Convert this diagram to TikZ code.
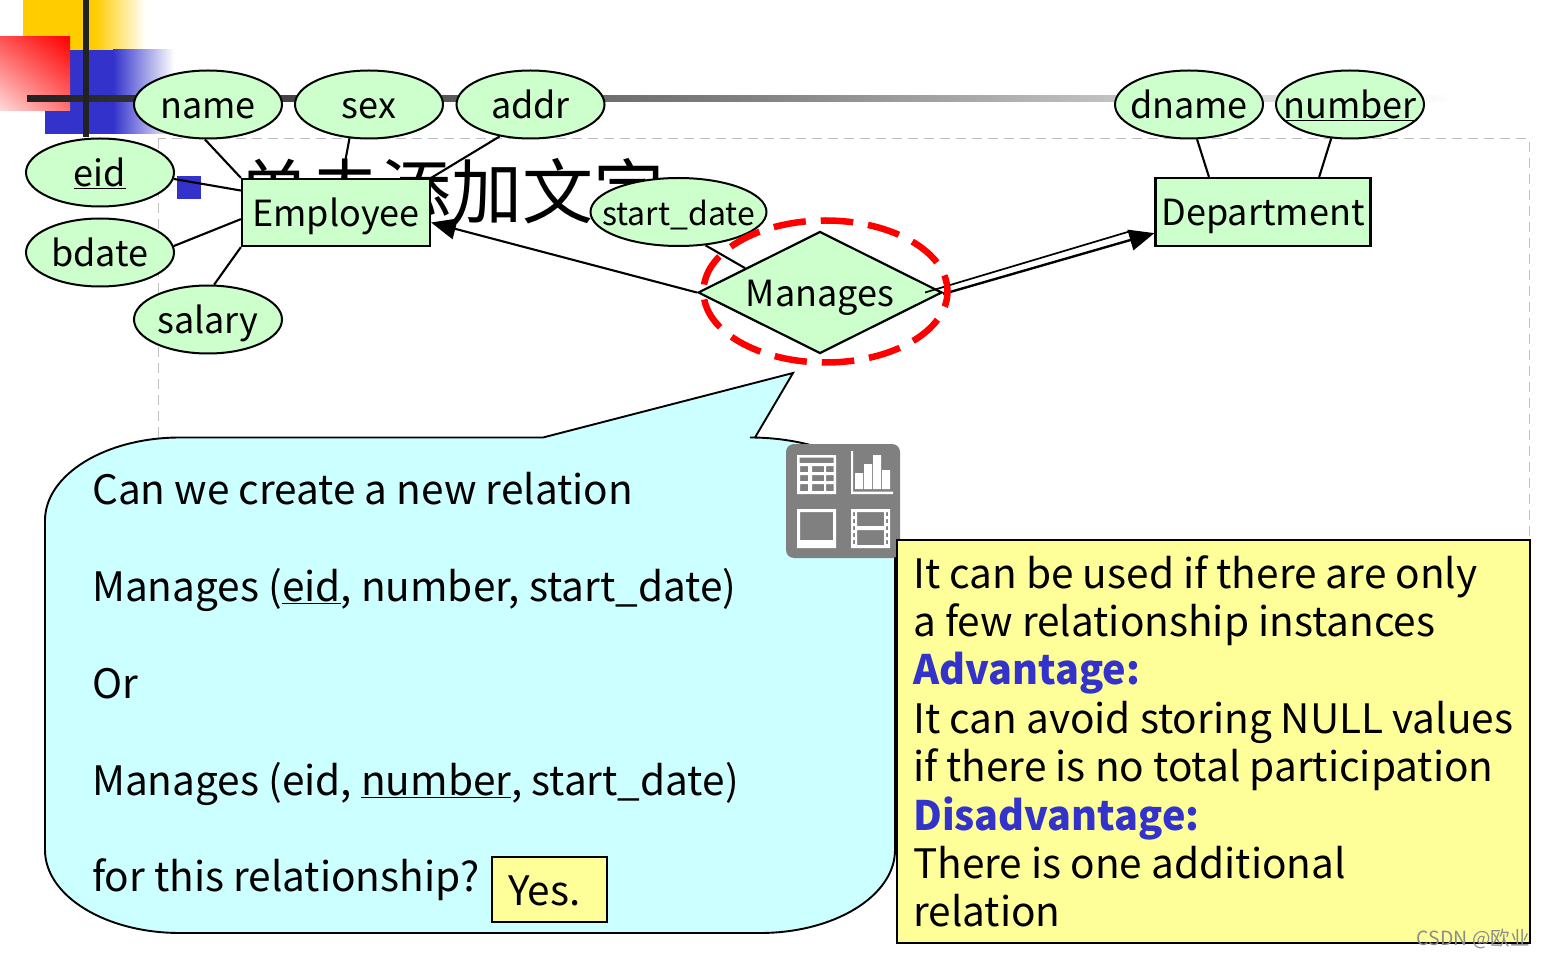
\documentclass[tikz,border=0pt]{standalone}
\usepackage{fontspec}
\setmainfont{Noto Sans CJK SC}
\newfontfamily\cond[FakeStretch=0.975]{Noto Sans CJK SC}
\usetikzlibrary{shapes.geometric,arrows.meta,shadings}
\definecolor{ergreen}{HTML}{CCFFCC}
\definecolor{calloutc}{HTML}{CCFFFF}
\definecolor{noteyellow}{HTML}{FFFF99}
\definecolor{deco}{HTML}{3333CC}
\definecolor{decodark}{HTML}{222222}
\definecolor{amber}{HTML}{FFCC00}
\newcommand{\ul}[1]{\underline{#1}}
\newcommand{\lbl}[1]{\makebox[0pt]{#1}}
\tikzset{
  attr/.style={ellipse,draw=black,fill=ergreen,line width=2pt,minimum width=148pt,minimum height=68pt,inner sep=0pt,font=\fontsize{36}{36}\selectfont,text height=36pt,text depth=8pt},
  ent/.style={rectangle,draw=black,fill=ergreen,line width=2.2pt,inner sep=0pt,font=\fontsize{36}{36}\selectfont,text height=36pt,text depth=8pt},
  rel/.style={diamond,draw=black,fill=ergreen,line width=2.2pt,minimum width=244pt,minimum height=122pt,inner sep=0pt,aspect=2,font=\fontsize{36}{36}\selectfont,text height=36pt,text depth=8pt},
  lnk/.style={line width=2.1pt,draw=black},
  body/.style={anchor=base west,inner sep=0pt,font=\fontsize{40.55}{42}\selectfont},
  bluehead/.style={body,text=deco,font=\fontsize{40.55}{42}\cond\bfseries},
  iconw/.style={fill=white,draw=none},
}
\begin{document}
\begin{tikzpicture}[x=1pt,y=-1pt]
\useasboundingbox (0,0) rectangle (1545,957);
\fill[white] (0,0) rectangle (1545,957);
% template decoration
\fill[amber] (23,0) rectangle (95,50);
\shade[left color=amber,right color=white] (95,0) rectangle (146,50);
\fill[deco] (45,50) rectangle (113,134);
\shade[left color=deco,right color=white] (113,50) rectangle (174,134);
\shade[upper right=red,upper left=red!68,lower right=red!55,lower left=red!14] (0,37) rectangle (70,111);
\shade[left color=decodark,right color=black!50] (27,96) rectangle (740,102);
\shade[left color=black!50,right color=white] (740,96) rectangle (1455,102);
\fill[decodark] (83,0) rectangle (89,137);
\fill[deco] (177,176) rectangle (201,199);
\draw[black!25,line width=1pt,dash pattern=on 10pt off 6pt] (158,139) rectangle (1529,700);
% title placeholder
\node[anchor=base west,inner sep=0pt,font=\fontsize{71}{71}\selectfont] (title) at (238,219) {单击添加文字};
% nodes
\node[attr] (name) at (208,104.5) {\lbl{name}};
\node[attr] (sex) at (369,104.5) {\lbl{sex}};
\node[attr] (addr) at (530.5,104.5) {\lbl{addr}};
\node[attr] (eid) at (100,172.5) {\lbl{\ul{eid}}};
\node[attr] (bdate) at (100,252.5) {\lbl{bdate}};
\node[attr] (salary) at (208,319.5) {\lbl{salary}};
\node[attr,font=\fontsize{32}{34}\selectfont,minimum width=176pt] (sdate) at (678.5,212) {\lbl{start\_date}};
\node[attr] (dname) at (1189,104.5) {\lbl{dname}};
\node[attr] (number) at (1350,104.5) {\lbl{\ul{number}}};
\node[ent,minimum width=188pt,minimum height=67pt] (emp) at (336,212.5) {Employee};
\node[ent,minimum width=215pt,minimum height=68pt] (dept) at (1263,212) {Department};
% connectors
\draw[lnk] (name.265) -- (emp.north west);
\draw[lnk] (sex.240) -- (emp.80);
\draw[lnk] (addr.226) -- (emp.north east);
\draw[lnk] (eid.355) -- (emp.167.7);
\draw[lnk] (bdate.5) -- (emp.184);
\draw[lnk] (salary.80) -- (emp.south west);
\draw[lnk] (dname.283) -- (dept.147);
\draw[lnk] (number.241) -- (dept.32.5);
\node[rel] (man) at (820,292.5) {Manages};
\draw[lnk] (sdate.309) -- (man.162);
\draw[lnk,-{Triangle[length=25pt,width=21pt]}] (man.west) -- (emp.354.2);
\coordinate (upA) at (925,292.5);
\coordinate (upB) at (1132,230.7);
\draw[line width=1.7pt] (upA) -- (upB);
\draw[line width=2.4pt,-{Triangle[length=25pt,width=21pt]}] ([yshift=-1.5pt]man.east) -- (dept.191);
\node[ellipse,draw=red,line width=6.5pt,dash pattern=on 32.5pt off 15pt,dash phase=16pt,minimum width=244pt,minimum height=142pt,inner sep=0pt] (ring) at (825.5,291.5) {};
% callout
\draw[fill=calloutc,line width=1.9pt] (543,437.5) -- (793,373) -- (755,437.5) -- (750,437.5)
  arc[start angle=90,end angle=0,x radius=145pt,y radius=83pt]
  -- (895,850) arc[start angle=0,end angle=-90,x radius=135pt,y radius=83pt]
  -- (180,933) arc[start angle=-90,end angle=-180,x radius=135pt,y radius=83pt]
  -- (45,520.5) arc[start angle=180,end angle=90,x radius=135pt,y radius=83pt] -- cycle;
\node[body] (c1) at (92,504.5) {Can we create a new relation};
\node[body] (c2) at (92,601.5) {Manages (\ul{eid}, number, start\_date)};
\node[body] (c3) at (92,698.5) {Or};
\node[body] (c4) at (92,795.5) {Manages (eid, \ul{number}, start\_date)};
\node[body] (c5) at (92,891.5) {for this relationship?};
\node[draw=black,fill=noteyellow,line width=1.9pt,minimum width=115pt,minimum height=65pt,inner sep=0pt] (yesbox) at (549.5,889.5) {};
\node[body] (yes) at (508,905.5) {Yes.};
% placeholder icons
\fill[black!50,rounded corners=8pt] (786,444) rectangle (900,558);
\fill[white,even odd rule] (797,455) rectangle (836,494)
  (799.5,457.5) rectangle (833.5,463)
  (800,466) rectangle (808,472) (812,466) rectangle (824,472) (826,466) rectangle (833.5,472)
  (800,475) rectangle (808,481) (812,475) rectangle (824,481) (826,475) rectangle (833.5,481)
  (800,484) rectangle (808,491) (812,484) rectangle (824,491) (826,484) rectangle (833.5,491);
\fill[iconw] (851,451) rectangle (853,494) (851,491.5) rectangle (893,494);
\fill[iconw] (855,473) rectangle (863,489) (864,464) rectangle (872,489) (873,455) rectangle (881,489) (882,470) rectangle (890,489);
\fill[white,even odd rule] (797,509) rectangle (836,548) (800,512) rectangle (833,540);
\fill[white,even odd rule] (851,509) rectangle (890,548)
  (857,512) rectangle (884,526) (857,530) rectangle (884,545)
  (853,512) rectangle (855,516) (853,519) rectangle (855,523) (853,526) rectangle (855,530) (853,533) rectangle (855,537) (853,540) rectangle (855,544)
  (886,512) rectangle (888,516) (886,519) rectangle (888,523) (886,526) rectangle (888,530) (886,533) rectangle (888,537) (886,540) rectangle (888,544);
% note
\node[draw=black,fill=noteyellow,line width=1.9pt,minimum width=633pt,minimum height=403pt,inner sep=0pt] (note) at (1213.5,741.5) {};
\node[body] (n1) at (913,588.5) {It can be used if there are only};
\node[body] (n2) at (913,636.5) {a few relationship instances};
\node[bluehead] (n3) at (913,684.5) {Advantage:};
\node[body] (n4) at (913,733.5) {It can avoid storing NULL values};
\node[body] (n5) at (913,781.5) {if there is no total participation};
\node[bluehead] (n6) at (913,830.5) {Disadvantage:};
\node[body] (n7) at (913,878.5) {There is one additional};
\node[body] (n8) at (913,926.5) {relation};
\node[anchor=base east,inner sep=0pt,text=black!45,font=\fontsize{19.5}{19}\selectfont] (wm) at (1530,945) {CSDN @欧业};
\end{tikzpicture}
\end{document}
